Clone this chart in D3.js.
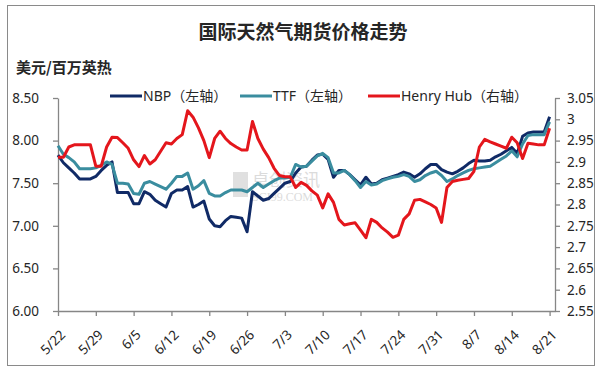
<!DOCTYPE html>
<html>
<head>
<meta charset="utf-8">
<script src="https://cdn.jsdelivr.net/npm/d3@7/dist/d3.min.js"></script>
<style>
    body { margin: 0; background: #fff; }
    svg text { font-family: "Noto Sans", "Noto Sans CJK SC", sans-serif; fill: #262626; }
</style>
</head>
<body>
<script>
// daily series from 5/22 to 8/21
var startDate = '2018-05-22';
var nbp = [7.83, 7.74, 7.68, 7.62, 7.55, 7.55, 7.55, 7.58, 7.65, 7.71,
    7.75, 7.39, 7.39, 7.39, 7.26, 7.26, 7.40, 7.37, 7.30, 7.26,
    7.22, 7.38, 7.42, 7.42, 7.46, 7.22, 7.25, 7.29, 7.08, 7.00,
    6.99, 7.06, 7.11, 7.10, 7.09, 6.93, 7.40, 7.35, 7.30, 7.32,
    7.38, 7.44, 7.50, 7.52, 7.62, 7.69, 7.70, 7.77, 7.83, 7.84,
    7.78, 7.57, 7.65, 7.65, 7.60, 7.54, 7.48, 7.57, 7.49, 7.50,
    7.54, 7.56, 7.58, 7.60, 7.63, 7.61, 7.57, 7.61, 7.67, 7.72,
    7.72, 7.66, 7.63, 7.61, 7.64, 7.68, 7.73, 7.77, 7.76, 7.76,
    7.77, 7.81, 7.84, 7.88, 7.92, 7.85, 8.05, 8.09, 8.10, 8.10,
    8.10, 8.28];
var ttf = [7.94, 7.84, 7.80, 7.75, 7.67, 7.67, 7.67, 7.68, 7.71, 7.75,
    7.72, 7.50, 7.50, 7.49, 7.38, 7.37, 7.50, 7.52, 7.49, 7.46,
    7.43, 7.50, 7.58, 7.58, 7.62, 7.43, 7.47, 7.53, 7.38, 7.35,
    7.35, 7.39, 7.42, 7.42, 7.42, 7.40, 7.45, 7.50, 7.45, 7.49,
    7.53, 7.56, 7.56, 7.57, 7.72, 7.69, 7.70, 7.76, 7.82, 7.85,
    7.80, 7.62, 7.62, 7.65, 7.60, 7.53, 7.45, 7.52, 7.48, 7.49,
    7.53, 7.55, 7.57, 7.58, 7.60, 7.58, 7.52, 7.54, 7.59, 7.62,
    7.64, 7.59, 7.52, 7.55, 7.59, 7.62, 7.65, 7.67, 7.68, 7.69,
    7.70, 7.74, 7.78, 7.82, 7.88, 7.81, 7.96, 8.06, 8.07, 8.07,
    8.07, 8.22];
var henryHub = [2.911, 2.911, 2.935, 2.94, 2.94, 2.94, 2.94, 2.89, 2.89, 2.935,
    2.958, 2.957, 2.945, 2.932, 2.905, 2.889, 2.915, 2.895, 2.905, 2.925,
    2.945, 2.942, 2.955, 2.964, 3.02, 3.005, 2.98, 2.95, 2.91, 2.955,
    2.972, 2.955, 2.943, 2.935, 2.928, 2.928, 2.995, 2.955, 2.93, 2.91,
    2.885, 2.868, 2.865, 2.865, 2.84, 2.852, 2.845, 2.832, 2.822, 2.792,
    2.825, 2.805, 2.765, 2.752, 2.755, 2.757, 2.74, 2.722, 2.765, 2.758,
    2.745, 2.735, 2.723, 2.728, 2.765, 2.778, 2.81, 2.812, 2.806, 2.80,
    2.792, 2.758, 2.84, 2.854, 2.857, 2.859, 2.861, 2.878, 2.935, 2.953,
    2.947, 2.942, 2.937, 2.932, 2.958, 2.945, 2.908, 2.944, 2.942, 2.94,
    2.94, 2.979];

var xTicks = ['5/22', '5/29', '6/5', '6/12', '6/19', '6/26', '7/3', '7/10',
    '7/17', '7/24', '7/31', '8/7', '8/14', '8/21'];
var leftTicks = [6.0, 6.5, 7.0, 7.5, 8.0, 8.5];
var rightTicks = [2.55, 2.6, 2.65, 2.7, 2.75, 2.8, 2.85, 2.9, 2.95, 3, 3.05];

var seriesNames = ['NBP（左轴）', 'TTF（左轴）', 'Henry Hub（右轴）'];
var colors = ['#102a66', '#3a8d9f', '#e4161c'];

var width = 598, height = 371;
var plotLeft = 58, plotRight = 555, plotTop = 98, plotBottom = 311;

var svg = d3.select('body').append('svg')
    .attr('width', width)
    .attr('height', height);

// outer frame
svg.append('rect')
    .attr('x', 7.5).attr('y', 5.5)
    .attr('width', 587).attr('height', 360)
    .attr('fill', 'none')
    .attr('stroke', '#8a8a8a');

var parse = d3.timeParse('%Y-%m-%d');
var t0 = parse(startDate);
function dateOf(i) { return d3.timeDay.offset(t0, i); }
function tickDate(s) {
    var p = s.split('/');
    return new Date(2018, +p[0] - 1, +p[1]);
}

var x = d3.scaleTime()
    .domain([t0, d3.timeDay.offset(t0, 92)])
    .range([plotLeft, plotRight]);
var yL = d3.scaleLinear().domain([6, 8.5]).range([plotBottom, plotTop]);
var yR = d3.scaleLinear().domain([2.55, 3.05]).range([plotBottom, plotTop]);

// watermark
var wm = svg.append('g').attr('opacity', 0.3);
wm.append('rect')
    .attr('x', 233).attr('y', 172).attr('width', 15).attr('height', 25)
    .attr('fill', '#9a9a9a');
wm.append('text')
    .attr('x', 252).attr('y', 186)
    .attr('font-size', 17)
    .style('fill', '#8a8a8a')
    .text('卓创资讯');
wm.append('text')
    .attr('x', 252).attr('y', 201)
    .attr('font-size', 12)
    .style('fill', '#8a8a8a')
    .style('font-family', 'Liberation Serif')
    .text('SCI99.COM');

// axes
var xAxis = svg.append('g')
    .attr('transform', 'translate(0,' + plotBottom + ')')
    .call(d3.axisBottom(x)
        .tickValues(xTicks.map(tickDate))
        .tickFormat(function (d, i) { return xTicks[i]; })
        .tickSize(5).tickSizeOuter(0));
xAxis.selectAll('text')
    .attr('font-size', 13.5)
    .attr('text-anchor', 'end')
    .attr('dy', null)
    .attr('transform', 'translate(2,19) rotate(-45)');

var yAxisL = svg.append('g')
    .attr('transform', 'translate(' + plotLeft + ',0)')
    .call(d3.axisLeft(yL)
        .tickValues(leftTicks)
        .tickFormat(d3.format('.2f'))
        .tickSize(5).tickSizeOuter(0));
yAxisL.selectAll('text')
    .attr('font-size', 13.5)
    .attr('x', -19);

var yAxisR = svg.append('g')
    .attr('transform', 'translate(' + plotRight + ',0)')
    .call(d3.axisRight(yR)
        .tickValues(rightTicks)
        .tickFormat(d3.format('~g'))
        .tickSize(5).tickSizeOuter(0));
yAxisR.selectAll('text')
    .attr('font-size', 13.5)
    .attr('x', 12);

svg.selectAll('.domain, .tick line')
    .attr('stroke', '#868686')
    .attr('stroke-width', 1.3);

// lines
function drawLine(values, scale, color) {
    var line = d3.line()
        .x(function (d, i) { return x(dateOf(i)); })
        .y(function (d) { return scale(d); });
    svg.append('path')
        .datum(values)
        .attr('d', line)
        .attr('fill', 'none')
        .attr('stroke', color)
        .attr('stroke-width', 3)
        .attr('stroke-linejoin', 'round');
}
drawLine(nbp, yL, colors[0]);
drawLine(ttf, yL, colors[1]);
drawLine(henryHub, yR, colors[2]);

// titles
svg.append('text')
    .attr('x', 303).attr('y', 39)
    .attr('text-anchor', 'middle')
    .attr('font-size', 19)
    .attr('font-weight', 'bold')
    .style('font-family', '"Noto Sans CJK SC", sans-serif')
    .text('国际天然气期货价格走势');
svg.append('text')
    .attr('x', 16).attr('y', 73)
    .attr('font-size', 15)
    .attr('font-weight', 'bold')
    .style('font-family', '"Noto Sans CJK SC", sans-serif')
    .text('美元/百万英热');

// legend
var legendX = [110, 240, 368];
var legend = svg.selectAll('.legend')
    .data(seriesNames)
    .enter().append('g')
    .attr('class', 'legend')
    .attr('transform', function (d, i) { return 'translate(' + legendX[i] + ',96)'; });
legend.append('line')
    .attr('x1', 0).attr('x2', 32)
    .attr('stroke', function (d, i) { return colors[i]; })
    .attr('stroke-width', 3);
legend.append('text')
    .attr('x', 33).attr('y', 5)
    .attr('font-size', 14)
    .text(function (d) { return d; });
</script>
</body>
</html>
